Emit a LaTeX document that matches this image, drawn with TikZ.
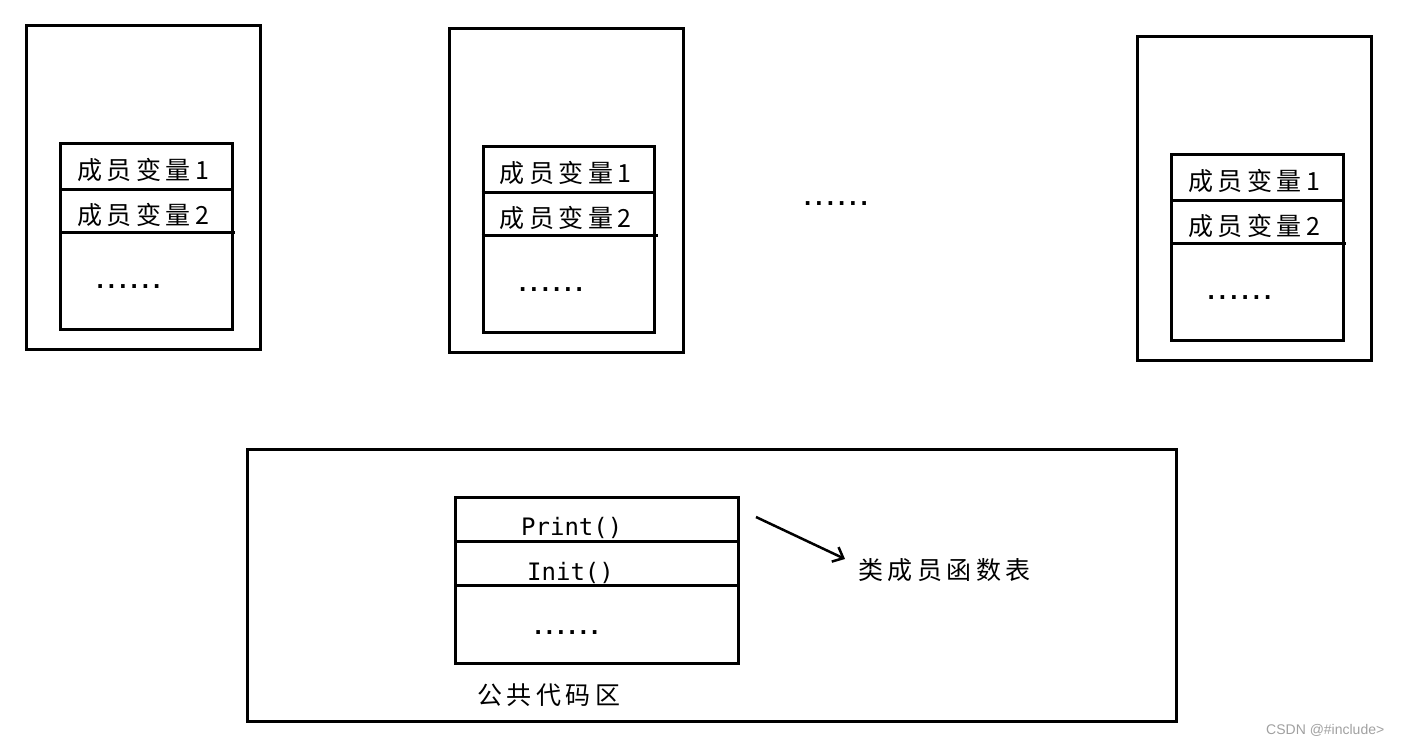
\documentclass[tikz,border=0pt]{standalone}
\usepackage{fontspec}
\newfontfamily\cjkfont[LetterSpace=18]{Noto Sans CJK SC}
\newfontfamily\monofont{DejaVu Sans Mono}
\newfontfamily\dotfont[LetterSpace=-9]{DejaVu Sans Mono Bold}
\newfontfamily\wmfont{Liberation Sans}
\usetikzlibrary{arrows.meta}
\definecolor{wmgray}{HTML}{A0A0A0}
\tikzset{
  box/.style={draw=black, line width=3pt, inner sep=0pt, anchor=north west},
  divider/.style={draw=black, line width=3pt},
  cjktext/.style={inner sep=0pt, anchor=base west, font=\cjkfont\fontsize{25pt}{30pt}\selectfont},
  codetext/.style={inner sep=0pt, anchor=base west, font=\monofont\fontsize{24pt}{28pt}\selectfont},
  dotstext/.style={inner sep=0pt, anchor=base west, font=\dotfont\fontsize{22pt}{26pt}\selectfont},
  arrowline/.style={draw=black, line width=2.5pt, -{Straight Barb[length=9pt,width=16pt,line width=2.5pt]}},
  wmtext/.style={inner sep=0pt, anchor=base west, text=wmgray, font=\wmfont\fontsize{14pt}{16pt}\selectfont}
}
\newcommand\memberbox[3]{%
  \node[box, minimum width=234pt, minimum height=324pt] (o#1) at (#2,#3) {};
  \node[box, minimum width=171.5pt, minimum height=185.5pt] (i#1) at (#2+34,#3+118) {};
  \draw[divider] ([yshift=-47pt]i#1.north west) -- ([yshift=-47pt]i#1.north east);
  \draw[divider] ([yshift=-90pt]i#1.north west) -- ([yshift=-90pt,xshift=1.5pt]i#1.north east);
  \node[cjktext] (a#1) at ([xshift=18pt,yshift=-37.5pt]i#1.north west) {成员变量1};
  \node[cjktext] (b#1) at ([xshift=18pt,yshift=-82pt]i#1.north west) {成员变量2};
  \node[dotstext] (d#1) at ([xshift=34.5pt,yshift=-146pt]i#1.north west) {......};
}
\begin{document}
\begin{tikzpicture}[x=1pt,y=-1pt]
\useasboundingbox (0,0) rectangle (1401,742);
\memberbox{1}{25}{24}
\memberbox{2}{447.5}{27}
\memberbox{3}{1136}{35}
\node[dotstext] (middots) at (801,205) {......};

\node[box, minimum width=929pt, minimum height=272pt] (code) at (246,448) {};
\node[box, minimum width=283pt, minimum height=166pt] (tab) at (454,496) {};
\draw[divider] ([yshift=-45pt]tab.north west) -- ([yshift=-45pt]tab.north east);
\draw[divider] ([yshift=-89pt]tab.north west) -- ([yshift=-89pt]tab.north east);
\node[codetext] (print) at (521,535) {Print()};
\node[codetext] (init) at (527,580) {Init()};
\node[dotstext] (tdots) at (531.5,634) {......};
\node[cjktext] (pub) at (477,704.5) {公共代码区};
\node[cjktext] (lbl) at (858,579.5) {类成员函数表};
\coordinate (arrS) at (756,517);
\coordinate (arrE) at (845,559);
\draw[arrowline] (arrS) -- (arrE);
\node[wmtext] (wm) at (1266,734) {CSDN @\#include>};
\end{tikzpicture}
\end{document}
